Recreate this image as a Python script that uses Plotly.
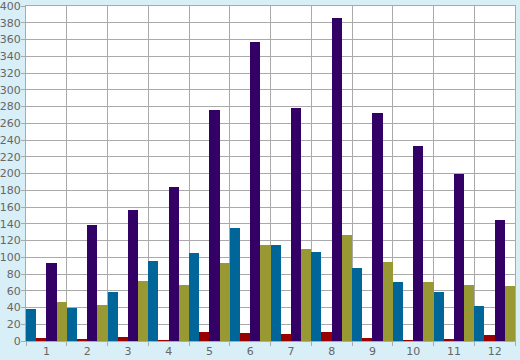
import plotly.graph_objects as go

categories = ["1", "2", "3", "4", "5", "6", "7", "8", "9", "10", "11", "12"]
blue_vals = [38, 39, 58, 96, 105, 135, 115, 106, 87, 71, 58, 42]
red_vals = [4, 2, 5, 1, 11, 9, 8, 11, 4, 1, 2, 7]
purple_vals = [93, 138, 157, 184, 276, 357, 278, 386, 272, 233, 200, 144]
olive_vals = [47, 43, 72, 67, 93, 115, 110, 126, 94, 71, 67, 66]

series = [
    ("Series A", blue_vals, "#006699"),
    ("Series B", red_vals, "#990000"),
    ("Series C", purple_vals, "#330066"),
    ("Series D", olive_vals, "#999933"),
]

fig = go.Figure()
for name, vals, color in series:
    fig.add_trace(go.Bar(x=categories, y=vals, name=name, marker=dict(color=color, line=dict(width=0))))

grid = "#aaaaaa"
fig.update_layout(
    width=520, height=360,
    barmode="group", bargap=0, bargroupgap=0,
    paper_bgcolor="#d9eff7", plot_bgcolor="#ffffff",
    margin=dict(l=26, r=5, t=6, b=19, autoexpand=False),
    showlegend=False,
    font=dict(family="DejaVu Sans", size=11, color="#666666"),
)
fig.update_xaxes(
    type="category", tickson="boundaries", ticks="outside", ticklen=4, tickcolor=grid,
    showgrid=True, gridcolor=grid, gridwidth=1, automargin=False,
    showline=True, linecolor=grid, linewidth=1, mirror=True,
    ticklabelstandoff=0,
    tickfont=dict(family="DejaVu Sans", size=11, color="#666666"),
)
fig.update_yaxes(
    range=[0, 400], tickmode="linear", tick0=0, dtick=20, ticks="outside", ticklen=4, tickcolor=grid,
    showgrid=True, gridcolor=grid, gridwidth=1, automargin=False,
    showline=True, linecolor=grid, linewidth=1, mirror=True,
    zeroline=False, ticklabelstandoff=-2, ticklabeloverflow="allow",
    tickfont=dict(family="DejaVu Sans", size=11, color="#666666"),
)

fig.write_html(
    "out.html",
    config={"displayModeBar": False},
    post_script="document.body.style.margin='0';document.body.style.background='#d9eff7';",
)
